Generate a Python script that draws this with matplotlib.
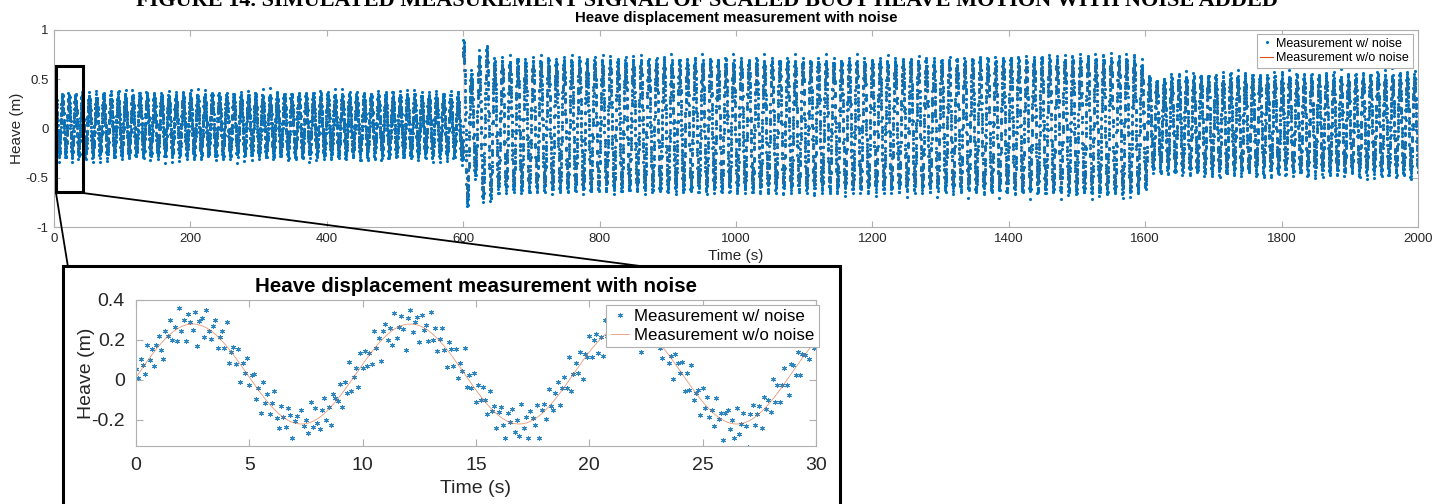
import numpy as np
import matplotlib
matplotlib.use("Agg")
import matplotlib.pyplot as plt
from matplotlib.lines import Line2D
from matplotlib.patches import Rectangle

# ---------------- data ----------------
sample_step = 0.1                     # s (10 Hz, as seen in the inset)
t_end = 2000.0

# sea-state segments: start time, wave period and first crest time
seg_start = [0.0, 40.0, 600.0, 1600.0]
seg_period = [9.6, 10.6, 11.3, 10.8]
seg_crest = [2.5, 40.9, 600.6, 1606.0]

# envelope of the noise-free heave (amplitude and mean level)
env_t = [0, 598, 600, 606, 612, 618, 624, 630, 636, 646, 700, 1000, 1300,
         1560, 1590, 1596, 1600, 1604, 1612, 1640, 1700, 1900, 2000]
env_amp = [0.25, 0.25, 0.80, 0.75, 0.45, 0.45, 0.68, 0.70, 0.74, 0.60, 0.60,
           0.60, 0.60, 0.63, 0.62, 0.55, 0.60, 0.45, 0.38, 0.42, 0.43, 0.43, 0.45]
env_mid = [0.03, 0.03, 0.03, 0.03, 0.03, 0.03, 0.03, 0.03, 0.03, 0.03, 0.03,
           0.03, 0.03, 0.03, 0.03, 0.03, 0.03, 0.03, 0.03, 0.04, 0.04, 0.04, 0.04]

# measurement-noise offsets estimated from the inset scatter (m)
noise_offsets = [
    0.04, -0.02, 0.06, 0.01, -0.05, 0.08, -0.01, 0.03, -0.07, 0.02,
    0.05, -0.03, -0.09, 0.04, 0.00, 0.07, -0.04, 0.02, -0.06, 0.10,
    -0.02, 0.03, -0.08, 0.05, 0.01, -0.03, 0.06, -0.11, 0.02, 0.04,
    -0.05, 0.09, -0.01, -0.04, 0.03, 0.07, -0.06, 0.01, 0.05, -0.02,
    0.12, -0.07, 0.00, 0.04, -0.03, 0.06, -0.09, 0.02, -0.01, 0.08,
    -0.04, 0.03, 0.05, -0.06, 0.01, -0.10, 0.07, -0.02, 0.04, -0.05,
    0.02, 0.09, -0.03, -0.07, 0.05, 0.00, -0.04, 0.06, 0.03, -0.08,
    0.01, 0.04, -0.12, 0.07, -0.01, 0.02, -0.05, 0.10, -0.03, 0.06,
    -0.02, -0.06, 0.03, 0.08, -0.04, 0.01, -0.09, 0.05, 0.02, -0.01,
    0.06, -0.07, 0.04, -0.03, 0.11, -0.05, 0.00, 0.03, -0.08, 0.07,
    -0.02, 0.05, -0.04, 0.01, -0.06, 0.09, -0.01, 0.03, -0.10, 0.04,
    0.06, -0.03, 0.02, -0.07, 0.08, -0.05, 0.00, 0.05, -0.02, -0.13,
    0.03, 0.07, -0.04, 0.01, 0.04, -0.08, 0.06, -0.01, 0.02, -0.05,
    0.10, -0.03, 0.04, -0.06, 0.01, 0.08, -0.02, -0.09, 0.05, 0.03,
    -0.04, 0.06, -0.07, 0.02, 0.00, 0.13, -0.05, 0.03, -0.02, 0.07, -0.06,
]

main_xticks = [0, 200, 400, 600, 800, 1000, 1200, 1400, 1600, 1800, 2000]
main_yticks = [-1, -0.5, 0, 0.5, 1]
main_yticklabels = ["-1", "-0.5", "0", "0.5", "1"]
inset_xticks = [0, 5, 10, 15, 20, 25, 30]
inset_yticks = [-0.2, 0, 0.2, 0.4]
inset_yticklabels = ["-0.2", "0", "0.2", "0.4"]
zoom_window = [2.5, 43.0, -0.642, 0.638]      # x0, x1, y0, y1 of the black box

title_text = "Heave displacement measurement with noise"
caption_text = "FIGURE 14. SIMULATED MEASUREMENT SIGNAL OF SCALED BUOY HEAVE MOTION WITH NOISE ADDED"
label_noise = "Measurement w/ noise"
label_clean = "Measurement w/o noise"

# ---------------- build the series ----------------
t = np.round(np.arange(0, int(round(t_end / sample_step)) + 1) * sample_step, 1)
seg = np.searchsorted(seg_start, t, side="right") - 1
per = np.array(seg_period)[seg]
crest = np.array(seg_crest)[seg]
clean = np.interp(t, env_t, env_mid) + np.interp(t, env_t, env_amp) * np.cos(2 * np.pi * (t - crest) / per)
noise = np.array(noise_offsets)[np.arange(len(t)) % len(noise_offsets)]
meas = clean + noise

# ---------------- figure ----------------
W, H = 1450, 504
plt.rcParams["font.family"] = ["Liberation Sans", "DejaVu Sans"]
fig = plt.figure(figsize=(W / 100, H / 100), dpi=100)


def fx(px):
    return px / W


def fy(py):
    return 1 - py / H


BLUE = "#0072BD"
ORANGE = "#D95319"
AXC = "#b0b0b0"
TXT = "#262626"
aster = (6, 2, 0)


def style_axes(ax, size, ticklen, pad):
    for s in ax.spines.values():
        s.set_color(AXC)
        s.set_linewidth(0.8)
    ax.tick_params(direction="in", top=True, right=True, length=ticklen, width=0.8,
                   color=AXC, labelcolor=TXT, labelsize=size, pad=pad)


# main axes
ax = fig.add_axes([fx(54), fy(227), fx(1418) - fx(54), fy(30) - fy(227)])
ax.plot(t, meas, ls="none", marker=aster, ms=2.2, mew=0.45, color=BLUE, label=label_noise)
ax.plot(t, clean, color=ORANGE, lw=0.3, alpha=0.45, label=label_clean)
ax.set_xlim(0, 2000)
ax.set_ylim(-1, 1)
ax.set_xticks(main_xticks)
ax.set_yticks(main_yticks)
ax.set_yticklabels(main_yticklabels)
style_axes(ax, 9.5, 4, 4)
ax.set_xlabel("Time (s)", fontsize=11, color=TXT, labelpad=3)
ax.set_ylabel("Heave (m)", fontsize=11, color=TXT)
ax.yaxis.set_label_coords((24 - 54) / 1364, 0.5)
leg = ax.legend(loc="upper right", bbox_to_anchor=(fx(1413), fy(34)), bbox_transform=fig.transFigure,
                borderaxespad=0, fontsize=9, frameon=True, fancybox=False, framealpha=1,
                edgecolor=AXC, handlelength=1.0, handletextpad=0.3, borderpad=0.3,
                labelspacing=0.2)
leg.get_frame().set_linewidth(0.8)
for h in leg.get_lines():
    h.set_alpha(1)
    h.set_linewidth(0.8)
fig.text(fx(736), fy(18), title_text, ha="center", va="center", fontsize=10.8,
         fontweight="bold", color="black")

ax.add_patch(Rectangle((zoom_window[0], zoom_window[2]), zoom_window[1] - zoom_window[0],
                       zoom_window[3] - zoom_window[2], fill=False, lw=2.2, ec="black",
                       zorder=6, clip_on=False))

# inset axes
ax2 = fig.add_axes([fx(136), fy(446), fx(816) - fx(136), fy(300) - fy(446)])
m = t <= 30
ax2.plot(t[m], meas[m], ls="none", marker=aster, ms=3.6, mew=0.75, color="#2f86bf", label=label_noise)
ax2.plot(t[m], clean[m], color=ORANGE, lw=0.6, alpha=0.6, label=label_clean)
ax2.set_xlim(0, 30)
ax2.set_ylim(-0.33, 0.4)
ax2.set_xticks(inset_xticks)
ax2.set_yticks(inset_yticks)
ax2.set_yticklabels(inset_yticklabels)
style_axes(ax2, 14, 5, 8)
ax2.set_xlabel("Time (s)", fontsize=14, color=TXT, labelpad=4)
ax2.set_ylabel("Heave (m)", fontsize=14, color=TXT)
ax2.yaxis.set_label_coords((95 - 136) / 680, 0.5)
leg2 = ax2.legend(loc="upper right", bbox_to_anchor=(fx(819), fy(305)), bbox_transform=fig.transFigure,
                  borderaxespad=0, fontsize=12.2, frameon=True, fancybox=False, framealpha=1,
                  edgecolor=AXC, handlelength=1.1, handletextpad=0.3, borderpad=0.25,
                  labelspacing=0.2)
leg2.get_frame().set_linewidth(0.8)
fig.text(fx(476), fy(286.5), title_text, ha="center", va="center", fontsize=14.8,
         fontweight="bold", color="black")

# inset frame and connector lines
fig.add_artist(Rectangle((fx(63), fy(515)), fx(840) - fx(63), fy(266) - fy(515),
                         transform=fig.transFigure, fill=False, lw=2.2, ec="black"))
fig.add_artist(Line2D([fx(56), fx(68)], [fy(193), fy(267)], transform=fig.transFigure,
                      color="black", lw=1.3))
fig.add_artist(Line2D([fx(83), fx(640)], [fy(193), fy(266)], transform=fig.transFigure,
                      color="black", lw=1.3))

# caption, cut off at the top edge as in the source image
fig.text(fx(707), fy(6), caption_text, ha="center", va="baseline", fontsize=16,
         fontweight="bold", family=["Liberation Serif", "DejaVu Serif"], color="black")

fig.savefig("out.png", dpi=100, facecolor="white")
